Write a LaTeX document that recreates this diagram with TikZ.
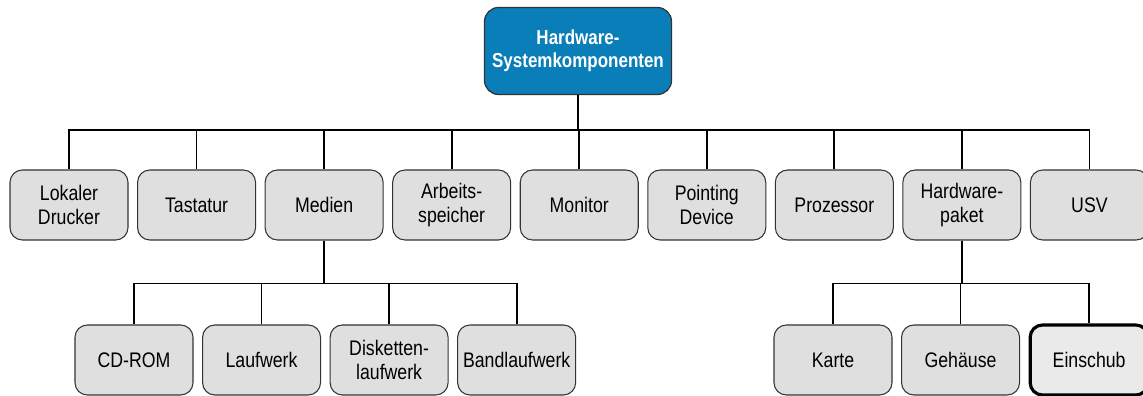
\documentclass[tikz,border=0pt]{standalone}
\usepackage{fontspec}
\setmainfont{Liberation Sans}[FakeStretch=0.84]
\usepackage{xcolor}
\usetikzlibrary{positioning}
\definecolor{rootblue}{HTML}{0A7EB8}
\definecolor{boxgray}{HTML}{DFDFDF}
\definecolor{boxlight}{HTML}{EAEAEB}
\tikzset{
  root/.style={draw=black!80, rounded corners=8pt, fill=rootblue, line width=0.7pt, align=center,
    text=white, font=\fontsize{11.5}{13.2}\selectfont\bfseries, minimum width=3.74cm, minimum height=1.74cm},
  comp/.style={draw=black!80, rounded corners=7pt, fill=boxgray, line width=0.6pt, align=center,
    font=\fontsize{12}{13.4}\selectfont, minimum width=2.36cm, minimum height=1.4cm, inner sep=1pt},
  current/.style={comp, fill=boxlight, line width=1.8pt, draw=black},
  conn/.style={line width=1pt},
}
\begin{document}
\begin{tikzpicture}
\useasboundingbox (0,0) rectangle (22.86,-7.92);
% oberste Ebene
\node[root] (hw) at (11.56,-1.02) {Hardware-\\Systemkomponenten};
% Ebene 1
\node[comp] (drucker) at (1.38,-4.1) {Lokaler\\Drucker};
\node[comp, right=0.17cm of drucker] (tastatur) {Tastatur};
\node[comp, right=0.17cm of tastatur] (medien) {Medien};
\node[comp, right=0.17cm of medien] (speicher) {Arbeits-\\speicher};
\node[comp, right=0.17cm of speicher] (monitor) {Monitor};
\node[comp, right=0.17cm of monitor] (pointing) {Pointing\\Device};
\node[comp, right=0.17cm of pointing] (prozessor) {Prozessor};
\node[comp, right=0.17cm of prozessor] (paket) {Hardware-\\paket};
\node[comp, right=0.17cm of paket] (usv) {USV};
% Ebene 2: Medien
\node[comp] (cdrom) at (2.68,-7.2) {CD-ROM};
\node[comp, right=0.17cm of cdrom] (laufwerk) {Laufwerk};
\node[comp, right=0.17cm of laufwerk] (diskette) {Disketten-\\laufwerk};
\node[comp, right=0.17cm of diskette] (band) {Bandlaufwerk};
% Ebene 2: Hardwarepaket
\node[comp] (karte) at (16.66,-7.2) {Karte};
\node[comp, right=0.17cm of karte] (gehaeuse) {Geh\"ause};
\node[current, right=0.17cm of gehaeuse] (einschub) {Einschub};
% Verbindungen
\foreach \n in {drucker,tastatur,medien,speicher,monitor,pointing,prozessor,paket,usv}
  \draw[conn] (hw.south) -- ++(0,-0.7) -| (\n.north);
\foreach \n in {cdrom,laufwerk,diskette,band}
  \draw[conn] (medien.south) -- ++(0,-0.86) -| (\n.north);
\foreach \n in {karte,gehaeuse,einschub}
  \draw[conn] (paket.south) -- ++(0,-0.86) -| (\n.north);
\end{tikzpicture}
\end{document}
